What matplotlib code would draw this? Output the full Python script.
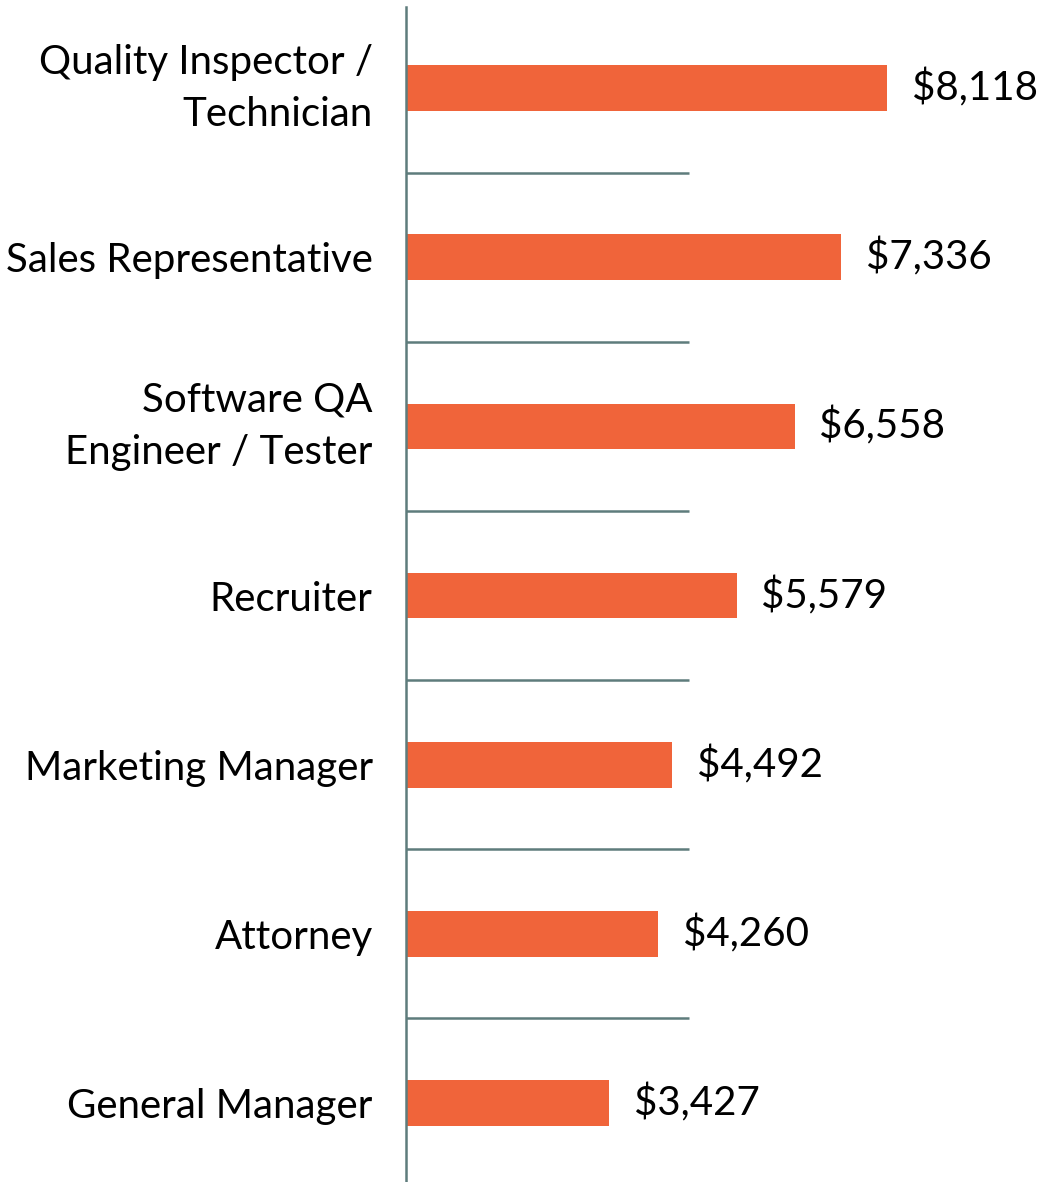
import matplotlib.pyplot as plt

# data
jobs = [
    "Quality Inspector /\nTechnician",
    "Sales Representative",
    "Software QA\nEngineer / Tester",
    "Recruiter",
    "Marketing Manager",
    "Attorney",
    "General Manager",
]
salaries = [8118, 7336, 6558, 5579, 4492, 4260, 3427]

BAR_COLOR = '#F0643A'
LINE_COLOR = '#5E7C7C'
FONT = 'Lato'

fig = plt.figure(figsize=(10.51, 11.82), dpi=100)
ax = fig.add_axes([406 / 1051, 0.0, 645 / 1051, 1 - 7 / 1182])

pos = list(range(len(jobs)))
ax.barh(pos, salaries, height=0.27, color=BAR_COLOR)

# separator lines between categories
for k in pos[:-1]:
    ax.plot([0, 4776], [k + 0.5, k + 0.5], color=LINE_COLOR, lw=1.8,
            solid_capstyle='butt')

# value labels
for y, v in zip(pos, salaries):
    ax.text(v + 420, y, f"${v:,}", va='center', ha='left',
            fontsize=29, family=FONT, color='black')

ax.set_xlim(0, 10886)
ax.set_ylim(6.467, -0.479)
ax.set_yticks(pos)
ax.set_yticklabels(jobs, fontsize=29, family=FONT, linespacing=1.5)
for lbl in ax.get_yticklabels():
    if "\n" in lbl.get_text():
        lbl.set_va('center')
ax.tick_params(axis='y', length=0, pad=24)
ax.set_xticks([])

for s in ['top', 'right', 'bottom']:
    ax.spines[s].set_visible(False)
ax.spines['left'].set_color(LINE_COLOR)
ax.spines['left'].set_linewidth(1.8)

fig.savefig("out.png", dpi=100)
